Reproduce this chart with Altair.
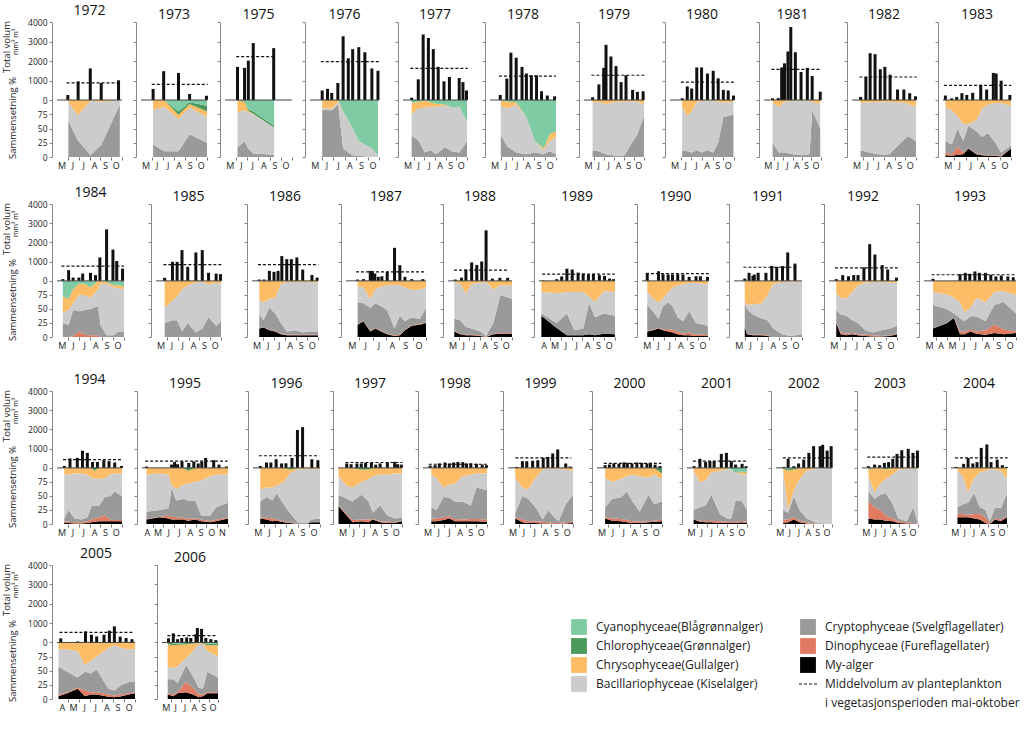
import altair as alt
import pandas as pd
import numpy as np

FONT = "Open Sans"
K = 29.2  # volume-axis units per percent of composition (lower half of each panel)

GROUPS = ["My-alger", "Dinophyceae", "Cryptophyceae", "Bacillariophyceae",
          "Chrysophyceae", "Chlorophyceae", "Cyanophyceae"]
COLORS = ["#000000", "#e07b62", "#9a9a9a", "#cccccc", "#fdbd66", "#4b9a5c", "#7fcca4"]

# ---- data: B = (month, total volume mm3/m3), M = mean volume,
# ---- C = (month, cumulative % top of: My, Dino, Crypto, Bacillario[, Chryso, Chloro]); Cyano fills to 100
B1972 = [(6.0,260),(6.95,960),(8.07,1620),(9.08,870),(10.68,1010)]
M1972 = 880
C1972 = [(6.05,0,0,64,97),(6.9,0,0,30,73),(8.1,0,0,3,99),(9.1,0,0,22,97),(10.8,0,0,92,100)]

B1973 = [(6.1,570),(7.06,1480),(8.41,1390),(9.42,310),(10.95,220)]
M1973 = 800
C1973 = [(6.1,0,0,22,83,100,100),(7.1,0,0,10,88,100,100),(8.41,0,0,10,67,74,80),(9.42,0,0,40,87,93,96),(11.0,0,0,25,70,80,90)]

B1975 = [(6.12,1700),(6.75,1650),(7.09,2020),(7.53,2920),(9.36,2660)]
M1975 = 2230
C1975 = [(6.12,0,0,17,79,100,100),(6.75,0,0,27,82,97,99),(7.09,0,0,15,79,81,84),(7.53,0,0,6,75,76,80),(9.4,0,0,4,52,52,55)]

B1976 = [(6.06,490),(6.52,575),(6.89,365),(7.42,870),(7.88,3270),(8.33,2140),(8.71,2610),(9.24,2710),(9.77,2450),(10.38,1620),(10.91,1500)]
M1976 = 1970
C1976 = [(6.06,0,0,83,86),(6.9,0,0,82,85),(7.45,0,0,92,97),(7.88,0,0,15,78,80,80),(8.33,0,0,8,65,65,65),(8.71,0,0,3,50,50,50),(9.24,0,0,2,28,28,28),(9.77,0,0,1,22,22,22),(10.38,0,0,0,15,15,15),(10.91,0,0,0,3,3,3)]

B1977 = [(5.81,120),(6.43,1060),(6.89,3360),(7.38,3180),(7.84,2610),(8.30,1700),(8.84,960),(9.35,1180),(10.27,1130),(10.62,920),(10.95,490)]
M1977 = 1620
C1977 = [(5.81,0,0,37,76,95,95),(6.43,0,0,30,85,97,97),(7.03,0,0,8,87,99,99),(7.57,0,0,12,88,96,96),(8.11,0,0,5,88,93,93),(8.92,0,0,17,90,92,92),(9.59,0,0,10,87,87,87),(10.27,0,0,8,88,88,88),(11.0,0,0,28,63,63,63)]

B1978 = [(5.93,260),(6.53,1100),(6.9,2430),(7.38,2170),(7.91,1700),(8.31,1360),(8.76,1270),(9.23,1270),(9.68,450),(10.21,230),(10.87,190)]
M1978 = 1230
C1978 = [(5.98,0,0,38,90,100,100),(6.59,0,0,18,85,97,97),(7.38,0,0,8,92,96,96),(8.31,0,0,5,70,70,70),(9.1,0,0,8,27,27,27),(9.89,0,0,5,12,15,15),(10.42,0,0,10,28,40,40),(11.0,0,0,5,35,45,45)]

B1979 = [(5.86,140),(6.49,800),(6.97,1650),(7.2,2830),(7.69,2230),(8.2,1740),(8.71,920),(9.2,1270),(9.86,520),(10.34,420),(10.91,450)]
M1979 = 1270
C1979 = [(5.86,0,0,12,95),(6.49,0,0,10,97),(7.2,0,0,5,93),(8.2,0,0,2,97),(9.06,0,0,3,97),(9.63,0,0,20,98),(10.34,0,0,40,97),(11.0,0,0,72,92)]

B1980 = [(6.14,90),(6.62,700),(7.03,590),(7.51,1670),(7.96,1670),(8.51,1360),(9.05,1500),(9.52,1110),(10.0,520),(10.46,490),(10.95,230)]
M1980 = 920
C1980 = [(6.14,0,0,12,88),(6.62,0,0,10,72),(7.03,0,0,8,80),(7.51,0,0,12,97),(7.96,0,0,8,98),(8.51,0,0,12,99),(9.05,0,0,8,100),(9.52,0,0,25,97),(10.0,0,0,70,96),(10.46,0,0,72,96),(10.95,0,0,75,97)]

B1981 = [(5.9,90),(6.5,100),(6.86,1670),(7.16,1880),(7.52,2490),(7.82,3740),(8.3,2450),(8.9,1440),(9.56,1650),(10.07,1230),(10.92,430)]
M1981 = 1570
C1981 = [(5.9,0,0,25,95),(6.56,0,0,8,88),(7.16,0,0,8,97),(8.06,0,0,5,99),(8.96,0,0,3,99),(9.8,0,0,5,99),(10.07,0,0,82,96),(10.92,0,0,50,94)]

B1982 = [(5.81,160),(6.3,1180),(6.7,2400),(7.16,2350),(7.65,1580),(8.08,1700),(8.57,1300),(9.27,540),(9.86,540),(10.41,350),(10.95,190)]
M1982 = 1180
C1982 = [(5.81,0,0,12,95),(6.62,0,0,8,96),(7.7,0,0,4,97),(8.51,0,0,5,97),(9.32,0,0,20,96),(10.14,0,0,35,95),(10.41,0,0,35,92),(11.0,0,0,27,88)]

B1983 = [(5.21,230),(5.77,90),(6.21,160),(6.67,350),(7.1,260),(7.62,370),(8.33,780),(8.85,540),(9.44,1390),(9.69,1360),(10.13,990),(10.9,260)]
M1983 = 750
C1983 = [(5.21,3,8,28,88),(5.77,2,5,22,82),(6.28,4,18,50,72),(6.79,5,8,28,58),(7.23,15,16,55,58),(7.95,5,6,45,65),(8.46,3,4,35,85),(8.97,2,3,42,92),(9.62,2,3,25,95),(10.13,1,2,8,95),(11.0,15,16,20,90)]

B1984 = [(5.52,90),(6.04,560),(6.44,170),(6.96,170),(7.3,380),(8.0,420),(8.45,300),(8.84,1220),(9.44,2680),(10.01,1630),(10.35,1030),(10.87,640)]
M1984 = 770
C1984 = [(5.52,0,0,25,43,72,72),(6.04,0,0,22,48,68,70),(6.44,0,2,48,60,85,85),(6.96,0,10,46,75,95,95),(7.48,0,4,48,75,95,95),(8.0,0,3,50,70,88,88),(8.66,0,3,55,85,100,100),(8.92,0,0,20,95,100,100),(9.44,0,0,3,95,98,98),(10.09,0,0,3,88,92,92),(10.48,0,0,10,87,92,92),(11.0,0,0,10,85,90,90)]

B1985 = [(5.8,160),(6.52,990),(6.95,990),(7.4,1600),(7.93,730),(8.68,1480),(9.27,1600),(9.85,420),(10.55,380),(10.95,350)]
M1985 = 850
C1985 = [(5.8,0,0,25,52),(6.52,0,0,30,65),(6.95,0,0,30,72),(7.4,0,0,10,85),(7.93,0,0,25,92),(8.68,0,0,8,97),(9.27,0,0,15,99),(9.85,0,0,35,94),(10.55,0,0,20,96),(11.0,0,0,28,95)]

B1986 = [(5.66,70),(6.1,70),(6.58,520),(7.0,470),(7.37,520),(7.71,1290),(8.16,1130),(8.58,1130),(9.08,1220),(9.61,590),(10.45,300),(10.92,170)]
M1986 = 850
C1986 = [(5.66,15,16,40,66),(6.05,17,18,30,62),(6.58,12,13,52,68),(7.11,10,11,42,70),(7.63,5,6,25,95),(8.16,3,4,10,98),(8.95,3,4,12,98),(9.61,3,4,8,98),(10.26,3,4,10,98),(11.0,3,4,10,97)]

B1987 = [(5.87,70),(6.31,90),(6.82,520),(6.98,500),(7.16,380),(7.42,210),(7.69,240),(8.09,470),(8.64,1720),(9.04,820),(9.42,210),(9.93,90),(10.76,90)]
M1987 = 470
C1987 = [(5.87,22,23,62,90),(6.31,28,29,60,88),(6.82,10,11,52,68),(7.2,15,16,60,85),(7.64,10,11,55,90),(8.09,5,6,48,92),(8.64,2,3,15,93),(9.04,3,4,38,92),(9.42,12,13,28,88),(9.93,20,21,35,84),(10.53,22,23,32,84),(11.0,25,26,52,88)]

B1988 = [(5.68,70),(6.27,170),(6.68,590),(7.22,960),(7.7,830),(8.16,1010),(8.57,2630),(9.16,120),(9.86,160),(10.59,160)]
M1988 = 560
C1988 = [(5.59,10,11,33,98),(6.14,5,6,30,95),(6.68,3,4,18,78),(7.22,3,4,15,95),(8.03,2,3,10,97),(8.57,0,1,2,98),(9.24,5,6,25,85),(9.92,6,7,75,92),(11.0,6,7,68,92)]

B1989 = [(4.41,20),(5.63,90),(6.09,230),(6.57,630),(7.06,590),(7.6,430),(8.07,380),(8.55,330),(9.01,360),(9.56,300),(10.04,260),(10.5,120),(10.86,90)]
M1989 = 350
C1989 = [(4.22,38,38,42,80),(5.63,16,16,25,78),(6.57,3,3,42,80),(7.25,3,3,12,80),(8.07,3,3,15,80),(8.61,5,5,60,72),(9.15,3,3,35,63),(9.96,6,6,42,82),(11.0,5,5,38,80)]

B1990 = [(5.47,420),(6.48,500),(6.88,350),(7.34,330),(7.73,330),(8.2,350),(8.67,330),(9.22,210),(9.84,240),(10.23,240),(10.86,210)]
M1990 = 380
C1990 = [(5.47,10,11,58,80),(6.0,12,13,45,68),(6.48,15,16,32,62),(6.88,12,14,55,68),(7.34,10,14,62,80),(7.73,8,13,55,88),(8.2,5,10,35,92),(8.67,3,6,28,94),(9.22,3,8,46,96),(9.84,2,5,25,96),(10.9,2,3,20,94)]

B1991 = [(5.95,120),(6.33,420),(6.67,260),(6.79,330),(7.13,420),(7.82,420),(8.33,780),(8.77,730),(9.28,770),(9.74,1480),(10.38,900)]
M1991 = 710
C1991 = [(5.95,18,19,60,62),(6.15,5,6,50,58),(6.67,3,4,40,58),(7.44,3,4,33,60),(7.95,2,3,30,75),(8.46,0,0,15,95),(9.23,0,0,5,98),(10.0,0,0,2,99),(11.0,0,0,5,99)]

B1992 = [(5.64,90),(6.21,300),(6.72,240),(7.18,300),(7.56,300),(8.08,700),(8.59,1910),(9.05,1370),(9.69,820),(10.18,590),(10.95,170)]
M1992 = 680
C1992 = [(5.64,25,27,48,78),(6.03,5,8,40,70),(6.54,3,6,38,68),(7.05,5,7,30,80),(7.56,3,5,25,92),(8.21,2,4,12,97),(8.85,1,3,8,98),(9.62,1,2,12,98),(10.38,2,3,15,97),(11.0,5,6,20,96)]

B1993 = [(3.78,110),(6.13,350),(6.59,420),(6.98,370),(7.43,490),(7.82,420),(8.34,420),(8.81,320),(9.25,230),(9.72,280),(10.29,230),(10.76,190)]
M1993 = 320
C1993 = [(3.78,15,15,57,80),(4.95,24,24,50,76),(5.6,34,34,42,70),(6.13,5,10,34,62),(6.52,5,10,28,45),(7.04,10,13,37,52),(7.56,6,10,37,70),(8.34,4,12,28,62),(9.12,7,22,57,80),(9.9,5,14,63,82),(11.0,7,10,42,75)]

B1994 = [(5.67,100),(6.2,490),(6.87,520),(7.35,890),(7.8,780),(8.28,310),(8.73,310),(9.32,400),(9.8,350),(10.33,280),(10.95,100)]
M1994 = 430
C1994 = [(5.67,3,5,10,88),(6.07,2,4,25,88),(6.6,1,3,10,90),(7.27,1,3,8,90),(7.8,2,5,12,88),(8.2,3,8,32,82),(8.47,4,10,32,81,95,100),(8.87,5,12,32,80),(9.4,5,15,48,82),(9.93,5,8,50,88),(10.33,5,7,58,90),(11.0,5,7,50,90)]

B1995 = [(4.41,70),(6.75,170),(7.03,300),(7.31,190),(7.72,330),(8.35,260),(8.82,330),(9.23,230),(9.56,330),(9.92,520),(10.67,400),(11.16,170),(11.85,70)]
M1995 = 350
C1995 = [(4.41,8,9,22,88),(5.65,12,13,25,90),(6.48,10,15,28,88),(6.75,8,13,65,70),(7.17,8,12,42,62),(7.86,8,11,45,70),(8.27,6,9,42,72,95,100),(8.96,8,10,42,75),(9.51,5,8,15,78),(10.34,3,5,15,85),(10.89,5,8,30,88),(12.0,10,11,38,88)]

B1996 = [(5.65,100),(6.21,280),(6.6,280),(7.07,450),(7.56,230),(7.95,240),(8.49,520),(8.98,1970),(9.44,2120),(10.27,450),(10.81,400)]
M1996 = 630
C1996 = [(5.65,10,12,40,62),(6.21,8,11,48,65),(6.73,5,10,42,65),(7.12,6,8,55,68),(7.76,3,5,35,75),(8.28,2,3,20,90,97,100),(9.06,0,0,2,98),(9.83,0,0,2,98),(10.22,3,3,8,98),(11.0,3,3,10,98)]

B1997 = [(5.82,230),(6.23,190),(6.77,230),(7.18,230),(7.59,260),(8.13,260),(8.54,170),(8.95,230),(9.63,280),(10.31,310),(10.59,190),(10.94,170)]
M1997 = 280
C1997 = [(5.05,32,33,52,85),(5.82,15,18,45,68),(6.36,3,7,40,65),(7.18,5,8,52,75,97,100),(7.86,3,8,40,80,97,100),(8.27,8,9,20,85),(8.95,3,5,33,88),(9.63,2,4,15,88),(10.31,2,3,10,90),(11.0,5,6,12,90)]

B1998 = [(5.67,120),(6.13,140),(6.53,230),(7.06,280),(7.47,230),(7.87,280),(8.27,310),(8.73,300),(9.08,230),(9.48,240),(10.01,210),(10.55,170),(10.95,140)]
M1998 = 190
C1998 = [(5.78,5,10,30,88),(6.26,5,10,25,82),(6.93,7,12,48,65),(7.47,10,14,47,70),(8.0,5,9,40,72),(8.67,5,8,40,85),(9.48,5,9,33,88),(10.01,5,9,65,90),(11.0,4,8,60,90)]

B1999 = [(5.8,50),(6.33,350),(6.73,350),(7.27,370),(7.75,400),(8.25,520),(8.68,570),(9.13,750),(9.59,960),(10.33,230),(10.73,70)]
M1999 = 520
C1999 = [(5.67,10,12,20,82),(6.33,3,8,50,65),(6.87,2,5,45,62),(7.53,2,5,30,82),(8.2,1,4,8,97),(8.73,1,3,25,99),(9.27,0,2,12,99),(9.67,0,2,5,99),(10.33,1,3,35,97),(11.0,2,4,52,95)]

B2000 = [(5.75,140),(6.15,170),(6.55,230),(7.03,210),(7.48,280),(7.8,260),(8.23,230),(8.68,280),(9.13,260),(9.61,230),(9.93,260),(10.36,170),(10.81,100)]
M2000 = 230
C2000 = [(5.75,10,12,30,82),(6.41,6,10,45,75),(7.21,5,9,47,80),(7.75,3,7,58,85),(8.28,2,5,40,88),(8.95,2,4,22,85),(9.75,3,5,52,83),(10.28,4,6,35,88),(11.0,5,8,40,80,90,100)]

B2001 = [(5.71,90),(6.29,470),(6.86,310),(7.29,350),(7.71,350),(8.43,730),(8.94,780),(9.43,350),(9.86,170),(10.51,210),(10.91,90)]
M2001 = 350
C2001 = [(5.66,8,9,25,95,99,99),(6.29,4,6,30,75,100,100),(6.86,3,5,33,78,100,100),(7.43,3,6,52,92,100,100),(8.29,2,5,18,95,100,100),(9.0,2,4,10,98,100,100),(9.43,2,3,10,97,97,97),(9.86,2,5,42,92,92,94),(10.43,3,5,42,88,92,93),(11.0,2,4,25,88,92,93)]

B2002 = [(5.85,50),(6.3,470),(6.91,90),(7.42,230),(7.97,430),(8.52,780),(9.03,1130),(9.73,1130),(10.0,1200),(10.48,900),(10.91,1130)]
M2002 = 520
C2002 = [(5.76,2,8,25,97,99,100),(6.3,3,8,20,25,95,97),(6.91,8,12,50,60,97,100),(7.52,3,6,25,80,100,100),(8.27,1,3,10,95),(9.18,0,1,3,99),(10.09,0,0,1,100),(11.0,0,0,1,100)]

B2003 = [(5.69,90),(6.35,170),(6.89,140),(7.4,260),(7.85,300),(8.3,470),(8.75,730),(9.26,920),(9.95,990),(10.46,780),(10.94,900)]
M2003 = 560
C2003 = [(5.69,10,40,58,85,98,100),(6.35,8,30,45,56),(6.95,8,25,52,72),(7.55,6,15,55,80,98,100),(8.3,5,10,35,88),(8.9,2,5,10,97),(9.8,1,3,5,99),(10.47,1,2,30,99),(11.0,0,1,2,99)]

B2004 = [(5.54,50),(6.35,210),(6.83,520),(7.34,230),(7.79,300),(8.24,1040),(8.84,1220),(9.29,300),(9.95,430),(10.5,140),(10.95,50)]
M2004 = 520
C2004 = [(5.69,12,18,30,95),(6.29,12,18,35,85),(6.83,12,16,38,57),(7.49,10,18,55,82),(8.09,8,18,30,92),(8.69,2,12,25,95),(9.14,0,2,5,98),(9.74,8,10,30,97),(10.35,5,8,28,95),(11.0,12,14,55,80)]

B2005 = [(4.34,210),(5.85,50),(6.56,570),(7.09,400),(7.56,310),(8.22,400),(8.7,610),(9.15,830),(9.67,300),(10.2,230),(10.73,170)]
M2005 = 520
C2005 = [(4.13,5,7,57,88),(4.92,10,12,48,88),(5.85,18,20,38,85),(6.51,5,15,48,60),(7.03,8,12,45,68),(7.56,8,12,52,75),(8.62,4,8,18,90),(9.15,3,6,15,95),(9.8,5,8,25,90),(10.46,8,10,30,88),(11.0,10,12,30,88)]

B2006 = [(5.7,210),(6.21,470),(6.67,170),(7.12,230),(7.64,260),(8.09,230),(8.64,430),(8.79,750),(9.24,700),(9.7,230),(10.24,170),(10.76,120)]
M2006 = 350
C2006 = [(5.61,8,10,35,57,97,100),(6.21,5,8,35,55,95,98),(6.67,10,12,28,58,96,98),(7.58,12,30,60,72,97,99),(8.33,8,20,40,85,98,100),(8.94,3,8,20,98,99,100),(9.39,5,8,18,97,98,99),(9.85,10,12,48,85,95,98),(11.0,10,12,38,75,95,98)]

# month span shown on each panel (default May-Oct)
SPAN = {1989: (4, 11), 1993: (3, 11), 1995: (4, 12), 2005: (4, 11)}

# ---- layout ----
ROW_YEARS = [
    [1972, 1973, 1975, 1976, 1977, 1978, 1979, 1980, 1981, 1982, 1983],
    [1984, 1985, 1986, 1987, 1988, 1989, 1990, 1991, 1992, 1993],
    [1994, 1995, 1996, 1997, 1998, 1999, 2000, 2001, 2002, 2003, 2004],
    [2005, 2006],
]
ROW_AXIS_X = [
    [52, 136, 220, 305, 398, 485, 579, 665, 759, 847, 938],
    [48, 147, 243, 337, 439, 530, 633, 725, 820, 915],
    [52, 137, 248, 333, 418, 503, 592, 682, 771, 857, 946],
    [52, 157],
]
ROW_PLOT_W = [
    [75, 76, 77, 79, 74, 76, 70, 74, 67, 74, 78],
    [77, 75, 76, 90, 74, 86, 77, 78, 78, 102],
    [75, 96, 77, 74, 74, 75, 75, 70, 66, 66, 66],
    [88, 66],
]
ROW_H = [135, 133, 133, 134]
ROW_SPACERS = [13, 20, 7]
LEGEND_X = 570

YTICKS = [4000, 3000, 2000, 1000, 0, -25 * K, -50 * K, -75 * K, -100 * K]

AXIS_TITLE_TOP = "Total volum"
AXIS_TITLE_UNIT = "mm³ m³"
AXIS_TITLE_LOW = "Sammensetning %"

LEGEND_GROUPS = ["Cyanophyceae", "Chlorophyceae", "Chrysophyceae", "Bacillariophyceae",
                 "Cryptophyceae", "Dinophyceae", "My-alger"]
LEGEND_LABELS = ["Cyanophyceae(Blågrønnalger)", "Chlorophyceae(Grønnalger)",
                 "Chrysophyceae(Gullalger)", "Bacillariophyceae  (Kiselalger)",
                 "Cryptophyceae (Svelgflagellater)", "Dinophyceae (Fureflagellater)", "My-alger"]
MEAN_LABELS = ["Middelvolum av planteplankton", "i vegetasjonsperioden mai-oktober"]

cscale = alt.Scale(domain=GROUPS, range=COLORS)
g = globals()


def panel(year, plot_w, group_w, height, first):
    d0, d1 = SPAN.get(year, (5, 11))
    bars = g["B%d" % year]
    mean = g["M%d" % year]
    comp = g["C%d" % year]
    bdf = pd.DataFrame(bars, columns=["x", "v"])
    rows = []
    for t in comp:
        t = list(t)
        while len(t) < 7:
            t.append(100)
        cum = list(np.maximum.accumulate(np.clip(np.array(t[1:], float), 0, 100))) + [100.0]
        prev = 0.0
        for i, (grp, c) in enumerate(zip(GROUPS, cum)):
            rows.append(dict(x=t[0], grp=grp, k=i, y=(c - 100) * K, y2=(prev - 100) * K))
            prev = c
    adf = pd.DataFrame(rows)
    mdf = pd.DataFrame([dict(x0=bdf.x.min() - 0.12, x1=bdf.x.max() + 0.12, m=mean)])
    zdf = pd.DataFrame([dict(a=d0, b=d1, z=0)])
    ppm = plot_w / (d1 - d0)

    xs = alt.Scale(domain=[d0, d1], range=[0, plot_w], nice=False, zero=False)
    ys = alt.Scale(domain=[-100 * K, 4000], nice=False, zero=False)
    xaxis = alt.Axis(values=list(range(d0 + 1, d1 + 1)), title=None, grid=False, domain=False,
                     labelExpr="substring('JFMAMJJASOND', datum.value - 2, datum.value - 1)",
                     labelOffset=-ppm / 2, labelFlush=False, labelOverlap=False,
                     tickSize=3, tickColor="#777", labelFontSize=9, labelPadding=1,
                     labelColor="#222", labelFont=FONT)
    yaxis = alt.Axis(values=YTICKS, title=None, grid=False, labels=first,
                     labelExpr="datum.value >= 0 ? format(datum.value, 'd') : format(100 + datum.value / %s, '.0f')" % K,
                     labelFlush=False, labelOverlap=False, domainColor="#888", tickColor="#888",
                     tickSize=3, labelFontSize=8.5, labelPadding=2, labelColor="#222", labelFont=FONT)

    def X(f):
        return alt.X(f, type="quantitative", scale=xs, axis=xaxis)

    def Y(f):
        return alt.Y(f, type="quantitative", scale=ys, axis=yaxis, stack=None)

    area = alt.Chart(adf).mark_area(interpolate="linear", opacity=1).encode(
        x=X("x"), y=Y("y"), y2="y2:Q",
        color=alt.Color("grp:N", scale=cscale, legend=None),
        order=alt.Order("k:Q"))
    bar = alt.Chart(bdf).mark_bar(size=3, color="#111").encode(x=X("x"), y=Y("v"), y2=alt.datum(0))
    mline = alt.Chart(mdf).mark_rule(strokeDash=[3, 2], color="#111", strokeWidth=1.2).encode(
        x=X("x0"), x2="x1:Q", y=Y("m"))
    zline = alt.Chart(zdf).mark_rule(color="#444", strokeWidth=1).encode(x=X("a"), x2="b:Q", y=Y("z"))
    layers = [area, bar, mline, zline]
    if first:
        tdf = pd.DataFrame([dict(t=AXIS_TITLE_TOP, px=-45, py=25, s=9.5),
                            dict(t=AXIS_TITLE_UNIT, px=-36, py=20, s=7),
                            dict(t=AXIS_TITLE_LOW, px=-39, py=96, s=9.5)])
        for _, r in tdf.iterrows():
            layers.append(alt.Chart(pd.DataFrame([{"t": r.t}])).mark_text(
                angle=270, align="center", baseline="middle", fontSize=float(r.s), font=FONT,
                color="#222").encode(text="t:N", x=alt.value(float(r.px)), y=alt.value(float(r.py))))
    return alt.layer(*layers).properties(
        width=group_w, height=height,
        title=alt.TitleParams(str(year), anchor="start", frame="group", dx=plot_w / 2,
                              align="center", offset=0, fontSize=14, fontWeight="normal",
                              font=FONT, color="#111"))


def legend_chart(height):
    recs = []
    for i, (grp, lab) in enumerate(zip(LEGEND_GROUPS, LEGEND_LABELS)):
        recs.append(dict(grp=grp, label=lab, col=0 if i < 4 else 1, row=i if i < 4 else i - 4, kind="sw"))
    recs.append(dict(grp="", label=MEAN_LABELS[0], col=1, row=3, kind="line"))
    recs.append(dict(grp="", label=MEAN_LABELS[1], col=1, row=4, kind="none"))
    ldf = pd.DataFrame(recs)
    lx = alt.Scale(domain=[0, 1], range=[9, 238])
    ly = alt.Scale(domain=[0, 4], range=[62, 138])
    enc = dict(x=alt.X("col:Q", scale=lx, axis=None), y=alt.Y("row:Q", scale=ly, axis=None))
    sw = alt.Chart(ldf).transform_filter("datum.kind == 'sw'").mark_square(
        size=250, opacity=1).encode(color=alt.Color("grp:N", scale=cscale, legend=None), **enc)
    ln = alt.Chart(ldf).transform_filter("datum.kind == 'line'").mark_point(
        shape="M-1,0L1,0", size=324, filled=False, strokeDash=[3, 2], color="#111",
        strokeWidth=1, opacity=1).encode(**enc)
    tx = alt.Chart(ldf).mark_text(align="left", baseline="middle", dx=17, fontSize=12,
                                  font=FONT, color="#222").encode(text="label:N", **enc)
    return alt.layer(sw, ln, tx).properties(width=450, height=height)


def spacer(h):
    return alt.Chart(pd.DataFrame({"a": [0]})).mark_point(opacity=0).encode(
        x=alt.value(0), y=alt.value(0)).properties(width=10, height=h)


rows = []
for r, years in enumerate(ROW_YEARS):
    axes = ROW_AXIS_X[r]
    pws = ROW_PLOT_W[r]
    panels = []
    for j, y in enumerate(years):
        if r == 3 and j == len(years) - 1:
            gw = LEGEND_X - axes[j]
        elif j < len(years) - 1:
            gw = axes[j + 1] - axes[j]
        else:
            gw = pws[j]
        panels.append(panel(y, pws[j], gw, ROW_H[r], j == 0))
    if r == 3:
        panels.append(legend_chart(ROW_H[r]))
    rows.append(alt.hconcat(*panels, spacing=0, bounds="flush"))

stack = [rows[0], spacer(ROW_SPACERS[0]), rows[1], spacer(ROW_SPACERS[1]), rows[2],
         spacer(ROW_SPACERS[2]), rows[3]]
chart = alt.vconcat(*stack, spacing=0).properties(
    padding={"left": 2, "top": 4, "right": 2, "bottom": 2}, background="white"
).configure(font=FONT).configure_view(stroke=None)

chart.save("out.html", embed_options={"renderer": "svg", "actions": False})
